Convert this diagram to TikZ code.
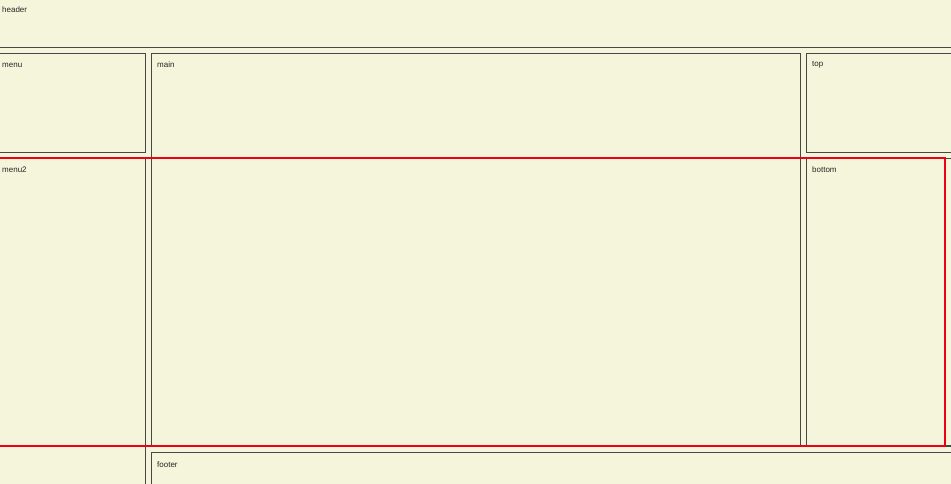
\documentclass[tikz,border=0pt]{standalone}
\usepackage{fontspec}
\setmainfont{Liberation Sans}
\begin{document}
\begin{tikzpicture}[x=1pt,y=-1pt,
  boxline/.style={draw=black!72,line width=1.1pt},
  redline/.style={draw={rgb,255:red,235;green,0;blue,20},line width=2pt},
  lbl/.style={anchor=west,inner sep=0pt,font=\fontsize{8}{9.5}\selectfont,text=black!85}]
\useasboundingbox (0,0) rectangle (951,484);
\clip (0,0) rectangle (951,484);
\fill[fill={rgb,255:red,245;green,245;blue,220}] (0,0) rectangle (951,484);
% boxes
\draw[boxline] (-5,-5) rectangle (960,47.5);
\draw[boxline] (-5,53.5) rectangle (145.5,152.5);
\draw[boxline] (151.5,53.5) rectangle (800.5,446);
\draw[boxline] (806.5,53.5) rectangle (960,152.5);
\draw[boxline] (-5,158.5) rectangle (145.5,495);
\draw[boxline] (806.5,158.5) rectangle (960,446);
\draw[boxline] (151.5,452.5) rectangle (960,495);
% red highlight
\draw[redline] (-5,158) rectangle (945,445.5);
% labels
\node[lbl] (header) at (2,10) {header};
\node[lbl] (menu) at (2,65) {menu};
\node[lbl] (main) at (157,65) {main};
\node[lbl] (top) at (812,65) {top};
\node[lbl] (menu2) at (2,170) {menu2};
\node[lbl] (bottom) at (812,170) {bottom};
\node[lbl] (footer) at (157,464.5) {footer};
\end{tikzpicture}
\end{document}
